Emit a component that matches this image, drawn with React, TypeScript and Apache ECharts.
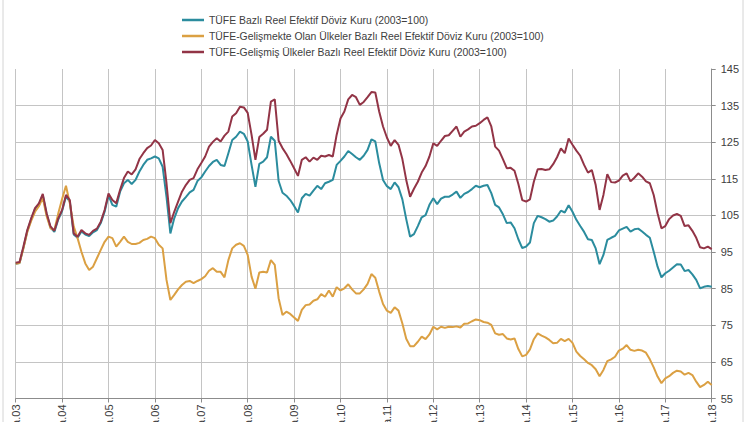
import React, { useEffect, useRef } from "react";
import * as echarts from "echarts";

const seriesNames = [
  "TÜFE Bazlı Reel Efektif Döviz Kuru (2003=100)",
  "TÜFE-Gelişmekte Olan Ülkeler Bazlı Reel Efektif Döviz Kuru (2003=100)",
  "TÜFE-Gelişmiş Ülkeler Bazlı Reel Efektif Döviz Kuru (2003=100)",
];

const years = [2003, 2004, 2005, 2006, 2007, 2008, 2009, 2010, 2011, 2012, 2013, 2014, 2015, 2016, 2017, 2018];
const monthNames = ["Oca", "Şub", "Mar", "Nis", "May", "Haz", "Tem", "Ağu", "Eyl", "Eki", "Kas", "Ara"];

const tufe = [
  91.8, 92, 96.2, 100.7, 103.9, 106.7, 108, 110.5, 105.3, 101.7, 100.5, 103.9,
  106.2, 110.2, 108.8, 99.8, 98.9, 100.6, 99.8, 99.4, 100.4, 101, 102.9, 106,
  110.5, 107.9, 107.4, 111.5, 113.8, 114.7, 113.6, 114.7, 117, 118.8, 120.2, 120.6,
  121.1, 120.6, 118.3, 110.1, 100.1, 104.2, 107, 108.8, 110, 111.3, 112, 114.4,
  115.4, 117, 118.5, 119.6, 120.2, 118.8, 118.5, 122, 125.6, 126.5, 127.9, 127.3,
  125.2, 118.8, 112.8, 119.1, 119.7, 120.9, 126.5, 125.4, 114.4, 111.2, 110.4, 109.2,
  107.6, 105.8, 109.7, 110.9, 110.4, 111.8, 113.1, 112.2, 113.8, 114.2, 114.7, 118.8,
  119.9, 121.1, 122.6, 121.8, 120.9, 120.2, 121.3, 122.9, 125.8, 125.2, 119.3, 114.7,
  113, 112.2, 114, 112.7, 109.4, 104, 99.2, 99.9, 102.1, 104.5, 105.1, 107.9,
  109.7, 108.1, 109.6, 110.1, 110.1, 110.7, 111.5, 109.8, 110.9, 111.4, 112.2, 113.1,
  112.7, 113.1, 113.3, 111.1, 107.9, 107.2, 105.3, 102.9, 103.1, 101.5, 98.5, 96.1,
  96.5, 97.6, 102.9, 104.9, 104.5, 104, 103.3, 103.6, 104.7, 106.3, 105.8, 107.8,
  106, 103.8, 102.1, 100.5, 98.5, 98.3, 96, 91.7, 94.2, 98.3, 98.9, 99.4,
  100.9, 101.4, 101.9, 100.6, 101.2, 101.4, 100.6, 99.7, 98.9, 95.1, 91, 88.1,
  89.2, 89.9, 90.8, 91.7, 91.6, 89.8, 90.1, 88.9, 87.4, 85.1, 85.5, 85.7,
  85.5,
];

const gelismekte = [
  91.8, 92, 96, 100.5, 103.5, 106, 107.5, 109.8, 104.8, 101.5, 101, 105.5,
  109.5, 113.1, 108.3, 102, 98.8, 95.1, 91.9, 90.1, 91, 93.3, 95.6, 97.8,
  99.2, 98.8, 96.5, 97.8, 99.2, 97.8, 97.2, 97.2, 97.5, 98.3, 98.6, 99.2,
  98.8, 97, 96, 87.4, 81.9, 83.3, 84.8, 86, 86.9, 87.1, 86.5, 87.1,
  87.6, 88.4, 89.9, 90.6, 89.6, 89.6, 88.1, 92.8, 96, 97, 97.4, 96.7,
  94.2, 88.3, 85, 89.4, 89.6, 89.4, 92.8, 91.5, 82.4, 77.8, 78.7, 78.1,
  77.1, 76.2, 79.2, 80.5, 80.7, 81.7, 82.1, 83.5, 82.8, 84.5, 82.8, 85.4,
  84.5, 85.1, 86.2, 84.8, 83.7, 83.7, 84.8, 86.3, 89, 88, 84.2, 80.8,
  79, 78.4, 79.9, 79, 75.5, 71.3, 69.3, 69.3, 70.5, 71.9, 71.2, 72.5,
  74.6, 73.9, 74.6, 74.3, 74.6, 74.5, 74.7, 74.4, 75.4, 75.5, 76.1, 76.6,
  76.4, 75.9, 75.7, 75.1, 72.8, 72.4, 72.6, 71.4, 71.1, 71.4, 68.5, 66.5,
  66.9, 68.4, 71.2, 72.8, 72.2, 71.7, 71, 70.1, 70.2, 71.3, 70.7, 71.3,
  70.2, 67.8, 66.6, 65.7, 64.7, 64.1, 63, 61.1, 62.8, 65.2, 65.7, 66.4,
  68.1, 68.6, 69.6, 68.3, 68, 68.3, 68.1, 67.5, 65.7, 63.5, 61, 59.2,
  60.5, 61.1, 62, 62.6, 62.4, 61.5, 62, 61.4, 59.6, 58.1, 58.7, 59.6,
  58.7,
];

const gelismis = [
  92.1, 92.3, 96.5, 101, 104.2, 107, 108.3, 110.9, 105.6, 102, 100.8, 104.2,
  106.5, 110.6, 109.2, 100.1, 99.2, 101, 100.1, 99.7, 100.8, 101.4, 103.3, 106.5,
  111, 109.2, 108.3, 112, 115.2, 117, 116.2, 117.6, 120.4, 122, 123.4, 124.1,
  125.6, 124.7, 122.9, 113.8, 102.9, 106, 108.8, 111.5, 113.3, 114.7, 115.2, 117.6,
  119.3, 121.1, 123.8, 125.1, 126.1, 125.2, 126.8, 127.9, 132, 132.9, 134.7, 134.5,
  133, 127, 120.2, 126.4, 127.3, 128.4, 136.1, 136.7, 125.4, 123.4, 121.8, 119.9,
  117.9, 115.8, 120.2, 120.9, 119.7, 120.8, 120.2, 121.3, 121.1, 121.5, 121.1, 127,
  131.5, 133.4, 136.7, 137.9, 137.3, 135.2, 136, 137.3, 138.7, 138.6, 133.4, 129.3,
  126.3, 124, 125.6, 124.3, 120.4, 114.7, 110.1, 112.3, 114.2, 116.7, 118.5, 121.1,
  124.7, 124, 125.4, 126.7, 126.9, 128.1, 129.3, 126.5, 127.9, 128.5, 129.3, 129.5,
  130.2, 131.1, 131.8, 129.3, 123.8, 122.7, 120.4, 117.9, 118, 117.2, 113.6, 109.2,
  108.8, 109.4, 114.2, 117.6, 117.7, 117.4, 117.6, 119, 120.9, 123.3, 122, 126,
  124.3, 122.7, 121.3, 118.8, 116.7, 117.4, 113.3, 106.5, 110.6, 116.3, 114.1, 114,
  114.5, 115.9, 116.5, 114.3, 115.3, 116.5, 115.6, 114.3, 113.8, 110.6, 105.6, 101.5,
  102.1, 104, 105, 105.4, 104.9, 102.1, 102.3, 100.8, 98.9, 96.3, 96, 96.5,
  95.8,
];

const yTicks = { min: 55, max: 145, interval: 10 };
const colors = ["#2b8c9e", "#dba043", "#923446"];

function buildCategories(): string[] {
  const cats: string[] = [];
  for (const y of years) {
    for (let m = 0; m < 12; m++) {
      cats.push(monthNames[m] + "." + String(y).slice(2));
      if (y === years[years.length - 1]) break;
    }
  }
  return cats;
}

export default function App() {
  const ref = useRef<HTMLDivElement>(null);
  useEffect(() => {
    if (!ref.current) return;
    const chart = echarts.init(ref.current, null, { renderer: "svg" });
    const categories = buildCategories();
    const isYearStart = (idx: number) => idx % 12 === 0;
    const dataSets = [tufe, gelismekte, gelismis];
    chart.setOption({
      animation: false,
      backgroundColor: "#ffffff",
      textStyle: { fontFamily: "Liberation Sans, Arial, sans-serif" },
      color: colors,
      graphic: [
        {
          type: "rect",
          shape: { x: 3, y: -10, width: 740, height: 460 },
          style: { fill: "none", stroke: "#d4d4d4", lineWidth: 1 },
          silent: true,
        },
      ],
      legend: {
        orient: "vertical",
        left: 177,
        top: 9,
        icon: "rect",
        itemWidth: 22,
        itemHeight: 2.5,
        itemGap: 4,
        textStyle: { fontSize: 10.4, color: "#404040", lineHeight: 12 },
        data: seriesNames,
      },
      grid: {
        left: 15.7,
        right: 38.3,
        top: 69,
        bottom: 23.5,
        containLabel: false,
        outerBoundsMode: "none",
      },
      xAxis: {
        type: "category",
        data: categories,
        boundaryGap: false,
        axisLine: { show: true, lineStyle: { color: "#8c8c8c", width: 1 } },
        axisTick: { show: true, interval: (i: number) => isYearStart(i), length: 4, lineStyle: { color: "#8c8c8c" } },
        axisLabel: {
          interval: (i: number) => isYearStart(i),
          rotate: 90,
          fontSize: 11,
          color: "#404040",
          margin: 6,
        },
        splitLine: {
          show: true,
          interval: (i: number) => isYearStart(i),
          lineStyle: { color: "#c4c4c4", width: 1 },
        },
      },
      yAxis: {
        type: "value",
        position: "right",
        min: yTicks.min,
        max: yTicks.max,
        interval: yTicks.interval,
        axisLine: { show: true, lineStyle: { color: "#8c8c8c", width: 1 } },
        axisTick: { show: true, length: 4, inside: false, lineStyle: { color: "#8c8c8c" } },
        axisLabel: { fontSize: 11, color: "#404040", margin: 9 },
        splitLine: { show: true, showMinLine: false, showMaxLine: false, lineStyle: { color: "#c4c4c4", width: 1 } },
      },
      series: seriesNames.map((name, k) => ({
        name,
        type: "line",
        data: dataSets[k],
        symbol: "none",
        showSymbol: false,
        lineStyle: { width: 2, color: colors[k] },
        itemStyle: { color: colors[k] },
      })),
    });
    return () => chart.dispose();
  }, []);
  return (
    <div
      ref={ref}
      style={{ position: "fixed", left: 0, top: 0, width: 750, height: 422, background: "#fff" }}
    />
  );
}
